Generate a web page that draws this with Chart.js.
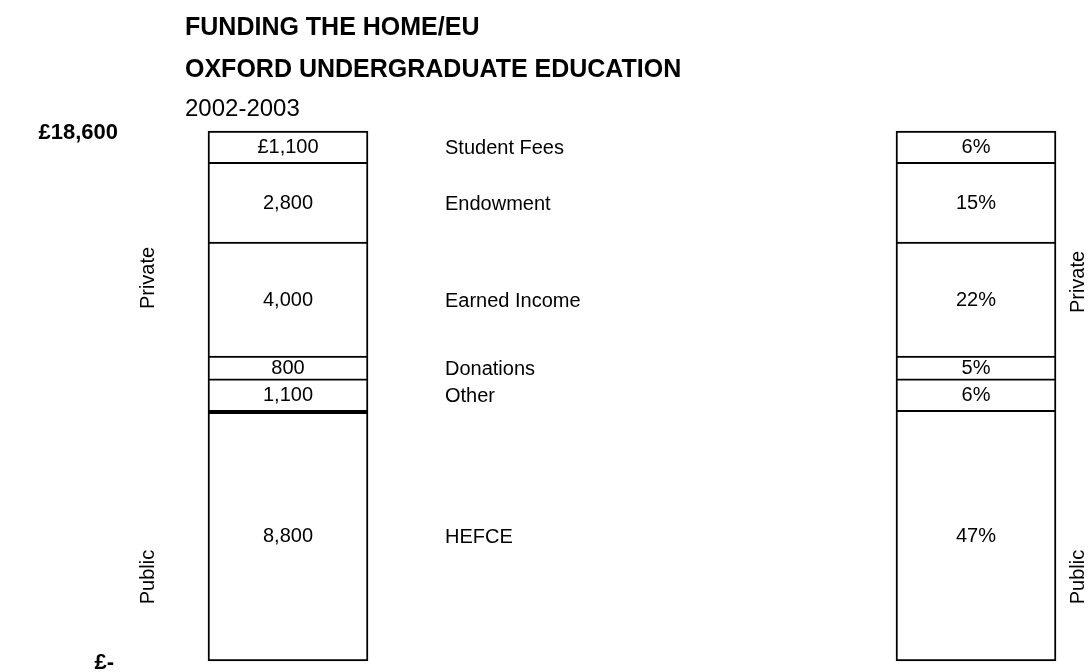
<!DOCTYPE html>
<html>
<head>
<meta charset="utf-8">
<script src="https://cdn.jsdelivr.net/npm/chart.js@4.4.1/dist/chart.umd.min.js"></script>
<style>
  html, body { margin: 0; padding: 0; background: #ffffff; }
</style>
</head>
<body>
<canvas id="chart1" width="1088" height="672"></canvas>
<script>
// data, listed top of the bar to bottom
const sources = ["Student Fees", "Endowment", "Earned Income", "Donations", "Other", "HEFCE"];
const amounts = [1100, 2800, 4000, 800, 1100, 8800];
const amountLabels = ["£1,100", "2,800", "4,000", "800", "1,100", "8,800"];
const shareLabels = ["6%", "15%", "22%", "5%", "6%", "47%"];
const groups = ["Private", "Private", "Private", "Private", "Private", "Public"];
const columns = ["Amount", "Share"];
const axisLabels = ["£-", "£18,600"];
const total = 18600;

const FONT = "'Liberation Sans', Arial, sans-serif";

// stack order in chart.js is bottom-up, so walk the lists backwards
let datasets = [];
for (let i = sources.length - 1; i >= 0; i--) {
  datasets.push({
    label: sources[i],
    data: [amounts[i], amounts[i]],
    backgroundColor: "#ffffff",
    borderColor: "#000000",
    borderSkipped: false,
    borderWidth: (c) => {
      let idx = sources.indexOf(c.dataset.label);
      let topW = 2;
      // heavier rule where private money ends and public begins (left bar only)
      if (c.dataIndex === 0 && idx > 0 && groups[idx] !== groups[idx - 1]) topW = 4;
      return { top: topW, left: 2, right: 2, bottom: idx === sources.length - 1 ? 2 : 0 };
    },
    barThickness: 160,
    clip: false,
    stack: "s",
  });
}

const textPlugin = {
  id: "textPlugin",
  afterDatasetsDraw(chart) {
    const ctx = chart.ctx;
    const y = chart.scales.y;
    ctx.save();
    ctx.fillStyle = "#000";

    // title
    ctx.textAlign = "left";
    ctx.textBaseline = "alphabetic";
    ctx.font = "bold 25px " + FONT;
    ctx.fillText("FUNDING THE HOME/EU", 185, 35);
    ctx.fillText("OXFORD UNDERGRADUATE EDUCATION", 185, 77);
    ctx.font = "24px " + FONT;
    ctx.fillText("2002-2003", 185, 116);

    // axis end labels
    ctx.font = "bold 22px " + FONT;
    ctx.textAlign = "right";
    ctx.textBaseline = "middle";
    ctx.fillText(axisLabels[1], 118, y.getPixelForValue(total) + 2);
    ctx.fillText(axisLabels[0], 114, y.getPixelForValue(0) + 2);

    // segment labels
    ctx.font = "20px " + FONT;
    chart.data.datasets.forEach((ds, di) => {
      let idx = sources.indexOf(ds.label);
      let meta = chart.getDatasetMeta(di);
      let left = meta.data[0];
      let right = meta.data[1];
      let cy = (left.y + left.base) / 2 + 1;
      ctx.textAlign = "center";
      ctx.fillText(amountLabels[idx], left.x, cy);
      ctx.fillText(shareLabels[idx], right.x, cy);
      ctx.textAlign = "left";
      ctx.fillText(ds.label, 445, cy + 1);
    });

    // rotated group labels
    const rot = (txt, x, yy) => {
      ctx.save();
      ctx.translate(x, yy);
      ctx.rotate(-Math.PI / 2);
      ctx.textAlign = "center";
      ctx.textBaseline = "middle";
      ctx.fillText(txt, 0, 0);
      ctx.restore();
    };
    rot("Private", 148, 278);
    rot("Public", 148, 577);
    rot("Private", 1078, 282);
    rot("Public", 1078, 577);
    ctx.restore();
  },
};

let chart1 = document.getElementById("chart1");
let config1 = {
  type: "bar",
  data: {
    labels: columns,
    datasets: datasets,
  },
  options: {
    responsive: false,
    animation: false,
    layout: {
      padding: { left: 288, right: 112, top: 131, bottom: 11 },
    },
    scales: {
      x: { display: false, offset: false, stacked: true },
      y: { display: false, stacked: true, min: 0, max: total },
    },
    plugins: {
      legend: { display: false },
      tooltip: { enabled: false },
    },
  },
  plugins: [textPlugin],
};

let barChart = new Chart(chart1, config1);
</script>
</body>
</html>
